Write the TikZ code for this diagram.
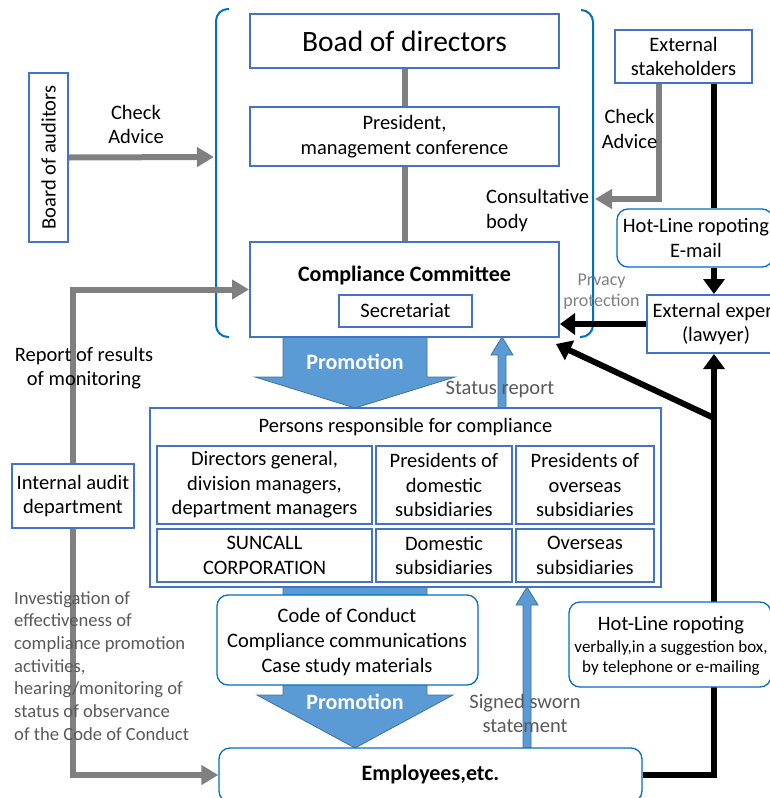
\documentclass[tikz,border=0pt]{standalone}
\usepackage{fontspec}
\setmainfont{Carlito}
\usetikzlibrary{arrows.meta,calc,backgrounds}
\definecolor{boxblue}{HTML}{4472C4}
\definecolor{brblue}{HTML}{0070C0}
\definecolor{arrfill}{HTML}{5B9BD5}
\definecolor{arredge}{HTML}{41719C}
\definecolor{lgrey}{HTML}{808080}
\definecolor{tgrey}{HTML}{595959}
\begin{document}
\begin{tikzpicture}[x=1pt,y=-1pt,
  every node/.style={font=\fontsize{20.5}{24.5}\selectfont},
  sqbox/.style={draw=boxblue, line width=2pt, fill=white, inner sep=0pt, align=center},
  rdbox/.style={draw=brblue, line width=1.3pt, fill=white, rounded corners=11pt, inner sep=0pt, align=center},
  txt/.style={inner sep=0pt, align=center},
  gtxt/.style={txt, text=tgrey},
  greyline/.style={draw=lgrey, line width=6pt},
  greyarr/.style={greyline, -{Triangle[length=17pt,width=19pt]}},
  blkline/.style={draw=black, line width=6pt},
  blkarr/.style={blkline, -{Triangle[length=15pt,width=21pt]}},
  bigarrow/.style={fill=arrfill, draw=arredge, line width=0.8pt, line join=miter},
  bracket/.style={draw=brblue, line width=2pt, rounded corners=12pt}
]
\useasboundingbox (0,0) rectangle (769,798);

% ---------- boxes ----------
\node[sqbox, minimum width=309pt, minimum height=54pt] (bod) at (404.5,41) {};
\node[txt, font=\fontsize{29.5}{34}\selectfont] (bodt) at (bod) {Boad of directors};
\node[sqbox, minimum width=309pt, minimum height=59pt] (pres) at (404.5,136.5) {};
\node[txt] (prest) at (pres) {President,\\management conference};
\node[sqbox, minimum width=309pt, minimum height=95pt] (cc) at (404.5,289.5) {};
\node[txt, font=\bfseries\fontsize{22}{26}\selectfont] (cct) at (404.5,276) {Compliance Committee};
\node[sqbox, minimum width=133pt, minimum height=32pt] (sec) at (405.5,311) {};
\node[txt] (sect) at (sec) {Secretariat};

\node[sqbox, minimum width=137pt, minimum height=53pt] (es) at (683.5,56.5) {};
\node[txt] (est) at (es) {External\\stakeholders};
\node[rdbox, minimum width=156pt, minimum height=58pt] (hl) at (695,238) {};
\node[txt] (hlt) at (696,238) {Hot-Line ropoting\\E-mail};
\node[sqbox, minimum width=138pt, minimum height=58pt] (ee) at (716,324) {};
\node[txt] (eet) at (ee) {External expert\\(lawyer)};

\node[sqbox, minimum width=39pt, minimum height=169pt] (boa) at (48.5,157.5) {};
\node[txt, rotate=90] (boat) at (boa) {Board of auditors};
\node[sqbox, minimum width=122pt, minimum height=64pt] (ia) at (73,496) {};
\node[txt] (iat) at (ia) {Internal audit\\department};

\node[sqbox, minimum width=511pt, minimum height=179pt] (pr) at (405.5,497.5) {};
\node[txt] (prt) at (405.5,427) {Persons responsible for compliance};
\node[sqbox, minimum width=215pt, minimum height=78pt] (c11) at (264.5,485) {Directors general,\\division managers,\\department managers};
\node[sqbox, minimum width=136pt, minimum height=78pt] (c12) at (444,485) {Presidents of\\domestic\\subsidiaries};
\node[sqbox, minimum width=138pt, minimum height=78pt] (c13) at (585,485) {Presidents of\\overseas\\subsidiaries};
\node[sqbox, minimum width=215pt, minimum height=53pt] (c21) at (264.5,555.5) {SUNCALL\\CORPORATION};
\node[sqbox, minimum width=136pt, minimum height=53pt] (c22) at (444,555.5) {Domestic\\subsidiaries};
\node[sqbox, minimum width=138pt, minimum height=53pt] (c23) at (585,555.5) {Overseas\\subsidiaries};

\node[rdbox, minimum width=261pt, minimum height=90pt] (cod) at (347.5,640) {};
\node[txt, font=\fontsize{20.5}{25}\selectfont] (codt) at (347,642) {Code of Conduct\\Compliance communications\\Case study materials};
\node[rdbox, minimum width=202pt, minimum height=85pt] (hlb) at (670,644.5) {};
\node[txt] (hlbt1) at (671,625) {Hot-Line ropoting};
\node[txt, font=\fontsize{17}{20.5}\selectfont] (hlbt2) at (671,658) {verbally,in a suggestion box,\\by telephone or e-mailing};
\node[rdbox, minimum width=423pt, minimum height=54pt] (emp) at (430.5,775) {};
\node[txt, font=\bfseries\fontsize{22}{26}\selectfont] (empt) at (430.5,775) {Employees,etc.};

% ---------- free texts ----------
\node[txt] (ca1) at (136,124.5) {Check\\Advice};
\node[txt] (ca2) at (629.5,129) {Check\\Advice};
\node[txt, anchor=west, align=left] (cons) at (486,210.5) {Consultative\\body};
\node[txt, text=lgrey, font=\fontsize{18}{21}\selectfont] (priv) at (601.5,291.5) {Prvacy\\protection};
\node[txt] (rep) at (84,368) {Report of results\\of monitoring};
\node[gtxt] (stat) at (500,389) {Status report};
\node[gtxt] (sign) at (525,713.5) {Signed sworn\\statement};
\node[gtxt, anchor=north west, align=left, font=\fontsize{18.6}{22.7}\selectfont] (inv) at (14,591) {Investigation of\\effectiveness of\\compliance promotion\\activities,\\hearing/monitoring of\\status of observance\\of the Code of Conduct};
\node[txt, text=white, font=\bfseries\fontsize{22}{26}\selectfont] (prom1) at (355,362) {Promotion};
\node[txt, text=white, font=\bfseries\fontsize{22}{26}\selectfont] (prom2) at (355,702) {Promotion};

\coordinate (bx) at (714,0);
\coordinate (brL) at (214,157);
\coordinate (brR) at (595,199);
\coordinate (dj) at (714,418);

\begin{scope}[on background layer]
  % brackets
  \draw[bracket] (229,9) -- (216,9) -- (216,337) -- (229,337);
  \draw[bracket] (581,10) -- (593,10) -- (593,337) -- (580,337);
  % grey connectors
  \draw[greyline] (bod.south) -- (pres.north);
  \draw[greyline] (pres.south) -- (cc.north);
  \draw[greyarr] (boa.east) -- (brL);
  \draw[greyarr] ($(es.south)+(-24.5,0)$) |- (brR);
  \draw[greyarr] (ia.north) |- (cc.west);
  \draw[greyarr] (ia.south) |- (emp.west);
  % black connectors
  \draw[blkline] (es.south -| bx) -- (hl.north -| bx);
  \draw[blkarr] (hl.south -| bx) -- (ee.north -| bx);
  \draw[blkarr] (ee.west) -- (cc.east |- ee.west);
  \draw[blkarr] (emp.east) -| (ee.south -| bx);
  \draw[blkarr] (dj) -- ($(cc.south east)+(-4,6)$);
  % big blue arrows
  \draw[bigarrow] (283,337) -- (427,337) -- (427,377) -- (455,377) -- (355,408) -- (255,377) -- (283,377) -- cycle;
  \draw[bigarrow] (283,587) -- (427,587) -- (427,695) -- (453,695) -- (355,748) -- (257,695) -- (283,695) -- cycle;
  \draw[bigarrow] (498,408) -- (498,355) -- (491,355) -- (502,337) -- (513,355) -- (506,355) -- (506,408) -- cycle;
  \draw[bigarrow] (523,748) -- (523,605) -- (516,605) -- (527,587) -- (538,605) -- (531,605) -- (531,748) -- cycle;
\end{scope}
\end{tikzpicture}
\end{document}
